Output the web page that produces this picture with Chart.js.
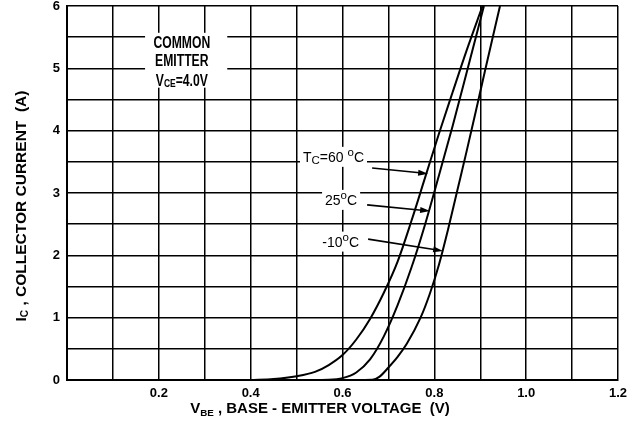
<!DOCTYPE html>
<html>
<head>
<meta charset="utf-8">
<script src="https://cdn.jsdelivr.net/npm/chart.js@4/dist/chart.umd.min.js"></script>
<style>
  html, body { margin: 0; padding: 0; background: #fff; }
</style>
</head>
<body>
<canvas id="chart" width="638" height="427"></canvas>
<script>
// data: V_BE (V) vs I_C (A)
const vbe60 = [0.40, 0.45, 0.50, 0.54, 0.57, 0.60, 0.63, 0.66, 0.69, 0.72, 0.75, 0.78, 0.81, 0.84, 0.87, 0.905]
const ic60  = [0.00, 0.015, 0.06, 0.13, 0.24, 0.40, 0.65, 0.98, 1.40, 1.90, 2.55, 3.25, 3.95, 4.62, 5.28, 6.00]

const vbe25 = [0.52, 0.57, 0.60, 0.63, 0.66, 0.69, 0.72, 0.75, 0.78, 0.81, 0.84, 0.87, 0.908]
const ic25  = [0.00, 0.005, 0.03, 0.12, 0.33, 0.70, 1.20, 1.80, 2.50, 3.28, 4.08, 4.92, 6.00]

const vbeM10 = [0.62, 0.665, 0.68, 0.70, 0.72, 0.74, 0.77, 0.79, 0.81, 0.83, 0.85, 0.87, 0.89, 0.91, 0.943]
const icM10  = [0.00, 0.005, 0.05, 0.20, 0.37, 0.58, 1.00, 1.38, 1.85, 2.42, 3.04, 3.66, 4.30, 4.95, 6.00]

const xTickLabels = ['0.2', '0.4', '0.6', '0.8', '1.0', '1.2']
const yTickLabels = ['0', '1', '2', '3', '4', '5', '6']

const FONT = '"Liberation Sans", Arial, sans-serif'

function toPoints(xs, ys) {
    return xs.map((x, i) => ({ x: x, y: ys[i] }))
}

function curve(xs, ys) {
    return {
        data: toPoints(xs, ys),
        showLine: true,
        borderColor: '#000',
        borderWidth: 2,
        pointRadius: 0,
        fill: false,
        cubicInterpolationMode: 'monotone'
    }
}

// text with sub/superscripts, parts = [[text, 'sub'|'sup'|undefined], ...]
// y is the middle of the capitals
function drawRich(ctx, parts, x, y, opts = {}) {
    const { size = 13, weight = 'normal', align = 'left', sx = 1, subScale = 0.72, subShift = 0.2, measureOnly = false } = opts
    const sizeOf = kind => kind ? size * subScale : size
    const fontOf = kind => `${weight} ${sizeOf(kind).toFixed(1)}px ${FONT}`
    let w = 0
    parts.forEach(([t, kind]) => { ctx.font = fontOf(kind); w += ctx.measureText(t).width })
    if (measureOnly) return w * sx
    const base = size * 0.716 / 2
    ctx.save()
    ctx.translate(x, y)
    ctx.scale(sx, 1)
    let cx = align === 'center' ? -w / 2 : 0
    ctx.textBaseline = 'alphabetic'
    ctx.textAlign = 'left'
    ctx.fillStyle = '#000'
    parts.forEach(([t, kind]) => {
        ctx.font = fontOf(kind)
        let by = base
        if (kind === 'sub') by += size * subShift
        if (kind === 'sup') by -= size * 0.716 - sizeOf(kind) * 0.519 + size * 0.14
        ctx.fillText(t, cx, by)
        cx += ctx.measureText(t).width
    })
    ctx.restore()
    return w * sx
}

function arrow(ctx, x0, y0, x1, y1) {
    const a = Math.atan2(y1 - y0, x1 - x0)
    ctx.save()
    ctx.strokeStyle = '#000'
    ctx.fillStyle = '#000'
    ctx.lineWidth = 1.6
    ctx.beginPath()
    ctx.moveTo(x0, y0)
    ctx.lineTo(x1 - 6 * Math.cos(a), y1 - 6 * Math.sin(a))
    ctx.stroke()
    ctx.beginPath()
    ctx.moveTo(x1, y1)
    ctx.lineTo(x1 - 10 * Math.cos(a) + 3 * Math.sin(a), y1 - 10 * Math.sin(a) - 3 * Math.cos(a))
    ctx.lineTo(x1 - 10 * Math.cos(a) - 3 * Math.sin(a), y1 - 10 * Math.sin(a) + 3 * Math.cos(a))
    ctx.closePath()
    ctx.fill()
    ctx.restore()
}

// annotation layout (data coordinates)
const commonBox = { x0: 0.17, x1: 0.349, y0: 5.57, y1: 4.69 }
const commonLines = [
    { y: 5.425, parts: [['COMMON']] },
    { y: 5.136, parts: [['EMITTER']] },
    { y: 4.81, parts: [['V'], ['CE', 'sub'], ['=4.0V']] }
]
const tempLabels = [
    { x: 0.514, y: 3.58, parts: [['T'], ['C', 'sub'], ['=60 '], ['o', 'sup'], ['C']], from: [0.6645, 3.40], to: [0.7865, 3.31] },
    { x: 0.562, y: 2.89, parts: [['25'], ['o', 'sup'], ['C']], from: [0.6536, 2.81], to: [0.7908, 2.71] },
    { x: 0.556, y: 2.22, parts: [['-10'], ['o', 'sup'], ['C']], from: [0.6558, 2.26], to: [0.8192, 2.07] }
]

const annotations = {
    id: 'annotations',
    beforeDatasetsDraw(chart) {
        const { ctx, scales: { x, y } } = chart
        ctx.save()
        ctx.fillStyle = '#fff'
        ctx.fillRect(x.getPixelForValue(commonBox.x0), y.getPixelForValue(commonBox.y0),
            x.getPixelForValue(commonBox.x1) - x.getPixelForValue(commonBox.x0),
            y.getPixelForValue(commonBox.y1) - y.getPixelForValue(commonBox.y0))
        ctx.restore()
        commonLines.forEach(l => {
            drawRich(ctx, l.parts, x.getPixelForValue(0.25), y.getPixelForValue(l.y),
                { size: 16, weight: 'bold', align: 'center', sx: 0.76, subScale: 0.7, subShift: 0.07 })
        })
        const labelStyle = { size: 14, subScale: 0.82, subShift: 0.18 }
        tempLabels.forEach(l => {
            const px = x.getPixelForValue(l.x), py = y.getPixelForValue(l.y)
            const w = drawRich(ctx, l.parts, px, py, { ...labelStyle, measureOnly: true })
            ctx.save()
            ctx.fillStyle = '#fff'
            ctx.fillRect(px - 3, py - 10, w + 6, 20)
            ctx.restore()
            drawRich(ctx, l.parts, px, py, labelStyle)
            arrow(ctx, x.getPixelForValue(l.from[0]), y.getPixelForValue(l.from[1]),
                x.getPixelForValue(l.to[0]), y.getPixelForValue(l.to[1]))
        })
    },
    afterDraw(chart) {
        const { ctx } = chart
        // x title
        drawRich(ctx, [['V'], ['BE', 'sub'], [' , BASE - EMITTER VOLTAGE  (V)']],
            320, 408, { size: 15, weight: 'bold', align: 'center', subScale: 0.65, subShift: 0.15 })
        // y title
        ctx.save()
        ctx.translate(20, 206)
        ctx.rotate(-Math.PI / 2)
        drawRich(ctx, [['I'], ['C', 'sub'], [' , COLLECTOR CURRENT  (A)']], 0, 0,
            { size: 15.5, weight: 'bold', align: 'center', subScale: 0.65, subShift: 0.15 })
        ctx.restore()
    }
}

new Chart(document.getElementById('chart'), {
    type: 'scatter',
    data: {
        datasets: [curve(vbe60, ic60), curve(vbe25, ic25), curve(vbeM10, icM10)]
    },
    options: {
        responsive: false,
        animation: false,
        layout: { padding: { top: 6, right: 20, left: 0, bottom: 0 } },
        plugins: { legend: { display: false }, tooltip: { enabled: false } },
        scales: {
            x: {
                type: 'linear',
                min: 0,
                max: 1.2,
                afterFit: scale => {
                    scale.height = 47
                    scale.paddingLeft = 0
                    scale.paddingRight = 0
                },
                grid: { color: '#000', lineWidth: 1.5, drawTicks: false },
                border: { color: '#000', width: 2 },
                ticks: {
                    stepSize: 0.1,
                    autoSkip: false,
                    maxRotation: 0,
                    padding: 6,
                    color: '#000',
                    font: { family: FONT, size: 13, weight: 'bold' },
                    callback: v => xTickLabels.includes(v.toFixed(1)) ? v.toFixed(1) : ''
                }
            },
            y: {
                type: 'linear',
                min: 0,
                max: 6,
                afterFit: scale => {
                    scale.width = 67
                    scale.paddingTop = 0
                    scale.paddingBottom = 0
                },
                grid: { color: '#000', lineWidth: 1.5, drawTicks: false },
                border: { color: '#000', width: 2 },
                ticks: {
                    stepSize: 0.5,
                    autoSkip: false,
                    padding: 7,
                    color: '#000',
                    font: { family: FONT, size: 13, weight: 'bold' },
                    callback: v => yTickLabels.includes(String(v)) ? String(v) : ''
                }
            }
        }
    },
    plugins: [annotations]
})
</script>
</body>
</html>
